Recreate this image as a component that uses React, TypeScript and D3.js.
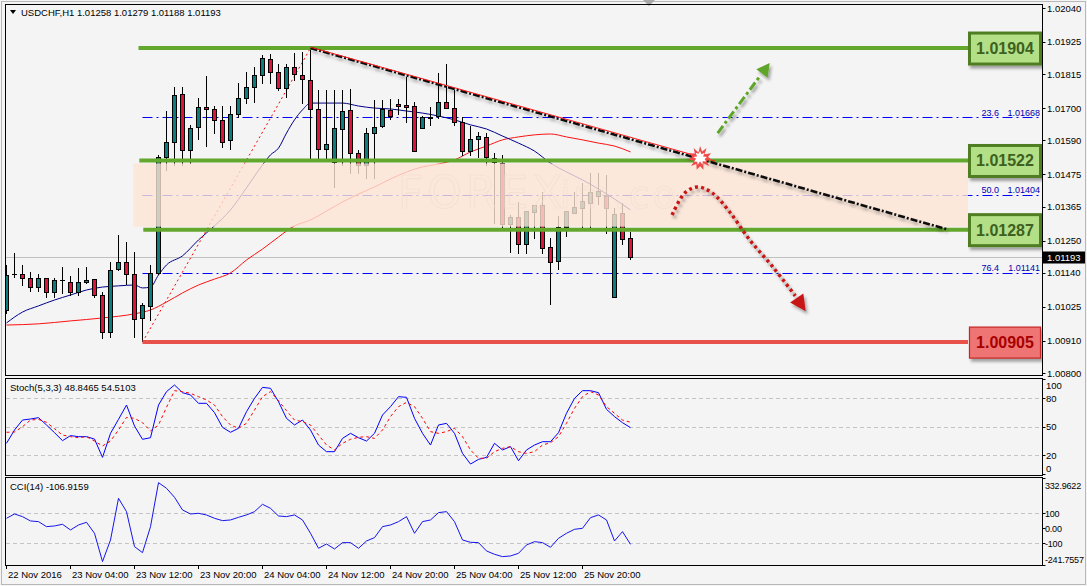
import React from "react";
import * as d3 from "d3";

// ---------- DATA ----------
const symbolTitle = "USDCHF,H1  1.01258 1.01279 1.01188 1.01193";

const opens = [1.01014,1.01136,1.01136,1.01123,1.01092,1.01123,1.01075,1.01116,1.01109,1.01075,1.01109,1.01119,1.01065,1.00939,1.01153,1.01177,1.01136,1.00987,1.01028,1.01140,1.01534,1.01585,1.01748,1.01557,1.01636,1.01704,1.01697,1.01659,1.01591,1.01680,1.01734,1.01771,1.01812,1.01867,1.01822,1.01768,1.01839,1.01812,1.01795,1.01697,1.01561,1.01517,1.01629,1.01693,1.01547,1.01506,1.01615,1.01639,1.01693,1.01714,1.01710,1.01707,1.01632,1.01666,1.01673,1.01721,1.01700,1.01653,1.01554,1.01595,1.01602,1.01530,1.01513,1.01306,1.01330,1.01238,1.01347,1.01371,1.01228,1.01180,1.01296,1.01343,1.01360,1.01377,1.01401,1.01401,1.01058,1.01343,1.01258];
const highs = [1.01167,1.01208,1.01167,1.01143,1.01136,1.01123,1.01123,1.01160,1.01129,1.01157,1.01160,1.01119,1.01075,1.01177,1.01269,1.01245,1.01211,1.01038,1.01167,1.01540,1.01690,1.01771,1.01771,1.01642,1.01734,1.01809,1.01707,1.01707,1.01707,1.01785,1.01822,1.01839,1.01880,1.01884,1.01850,1.01850,1.01887,1.01890,1.01904,1.01761,1.01761,1.01761,1.01761,1.01765,1.01557,1.01632,1.01727,1.01727,1.01731,1.01731,1.01805,1.01721,1.01673,1.01704,1.01819,1.01850,1.01761,1.01670,1.01639,1.01619,1.01615,1.01547,1.01540,1.01337,1.01381,1.01350,1.01371,1.01415,1.01258,1.01333,1.01350,1.01415,1.01445,1.01479,1.01479,1.01473,1.01360,1.01377,1.01279];
const lows = [1.01004,1.01126,1.01099,1.01078,1.01078,1.01058,1.01058,1.01072,1.01065,1.01065,1.01106,1.01058,1.00919,1.00922,1.01150,1.01102,1.00922,1.00909,1.00980,1.01136,1.01490,1.01506,1.01506,1.01513,1.01595,1.01571,1.01615,1.01568,1.01561,1.01670,1.01717,1.01721,1.01785,1.01785,1.01761,1.01737,1.01795,1.01717,1.01530,1.01530,1.01530,1.01432,1.01506,1.01479,1.01479,1.01462,1.01462,1.01636,1.01663,1.01680,1.01653,1.01554,1.01632,1.01642,1.01666,1.01700,1.01642,1.01540,1.01540,1.01534,1.01506,1.01309,1.01292,1.01211,1.01208,1.01208,1.01258,1.01208,1.01034,1.01153,1.01265,1.01343,1.01286,1.01296,1.01374,1.01275,1.01058,1.01238,1.01188];
const closes = [1.01133,1.01136,1.01123,1.01092,1.01123,1.01075,1.01116,1.01116,1.01075,1.01109,1.01116,1.01065,1.00939,1.01150,1.01177,1.01136,1.00983,1.01031,1.01140,1.01534,1.01585,1.01744,1.01557,1.01632,1.01704,1.01697,1.01659,1.01585,1.01680,1.01734,1.01771,1.01812,1.01870,1.01822,1.01768,1.01839,1.01816,1.01799,1.01697,1.01561,1.01578,1.01632,1.01690,1.01547,1.01506,1.01615,1.01636,1.01697,1.01673,1.01707,1.01705,1.01554,1.01670,1.01670,1.01721,1.01700,1.01653,1.01554,1.01595,1.01605,1.01534,1.01517,1.01306,1.01330,1.01238,1.01350,1.01371,1.01225,1.01177,1.01296,1.01350,1.01364,1.01384,1.01415,1.01418,1.01360,1.01340,1.01255,1.01193];

// moving averages, sampled at bar indices
const maBlueBars = [0,2,4,6,8,10,12,14,16,17,18,19,20,22,24,26,28,30,32,33,34,35,36,37,38,40,42,44,46,48,50,52,54,56,58,60,62,64,66,68,70,72,74,76,78];
const maBlueVals = [1.00970,1.01007,1.01028,1.01048,1.01065,1.01082,1.01092,1.01096,1.01099,1.01089,1.01092,1.01133,1.01167,1.01198,1.01252,1.01300,1.01354,1.01429,1.01507,1.01541,1.01564,1.01615,1.01660,1.01694,1.01717,1.01717,1.01717,1.01707,1.01700,1.01697,1.01690,1.01683,1.01673,1.01660,1.01643,1.01629,1.01605,1.01581,1.01554,1.01513,1.01483,1.01456,1.01425,1.01391,1.01354];
const maRedBars = [0,4,8,12,16,18,20,22,24,26,28,30,32,34,36,38,40,42,44,46,48,50,52,54,56,58,60,62,64,66,68,70,72,74,76,78];
const maRedVals = [1.00963,1.00967,1.00977,1.00987,1.01001,1.01014,1.01041,1.01072,1.01099,1.01119,1.01140,1.01184,1.01221,1.01262,1.01300,1.01320,1.01350,1.01381,1.01408,1.01432,1.01459,1.01483,1.01500,1.01510,1.01524,1.01551,1.01571,1.01592,1.01602,1.01609,1.01612,1.01602,1.01592,1.01581,1.01571,1.01551];

const priceTicks = [1.0204,1.01925,1.01815,1.017,1.0159,1.01475,1.01365,1.0125,1.0114,1.01025,1.0091,1.008];
const timeLabelBars = [0,8,16,24,32,40,48,56,64,72];
const timeLabels = ["22 Nov 2016","23 Nov 04:00","23 Nov 12:00","23 Nov 20:00","24 Nov 04:00","24 Nov 12:00","24 Nov 20:00","25 Nov 04:00","25 Nov 12:00","25 Nov 20:00"];

const stochMain = [32.3,46.3,56.8,57.9,59.3,51.6,43.5,35.1,40.4,39.3,39.3,36.8,17.5,42.8,57.5,72.6,50.5,36.5,38.2,72.6,86.7,93.7,85.6,83.2,74.4,74.4,64.6,49.1,43.9,48.1,65.6,79.6,91.2,90.2,76.1,58.6,51.6,56.8,46.3,30.5,23.5,23.5,37.5,42.8,38.2,34.7,42.8,62.1,70.9,81.4,80.7,58.6,42.8,30.5,51.6,53.3,42.8,21.7,10.5,15.4,17.5,32.3,25.3,28.8,14.0,25.3,30.5,34.0,34.0,43.5,63.9,79.6,87.7,87.7,85.6,68.1,60.4,54.0,48.8];
const stochSignal = [43.9,44.2,49.8,56.8,57.5,54.4,47.7,41.0,39.3,38.2,39.3,34.7,29.5,34.7,46.3,59.6,58.6,54.0,45.3,51.6,70.2,87.7,86.7,84.9,81.4,77.9,72.6,60.4,51.6,48.1,53.4,67.4,81.4,86.7,77.2,66.7,56.8,55.1,51.6,41.0,30.5,25.3,32.3,36.5,38.6,39.3,37.5,46.3,60.4,70.9,75.4,70.9,58.6,44.6,42.8,44.6,48.1,39.3,25.3,16.5,16.5,23.5,27.0,28.8,23.5,21.7,23.5,30.5,33.0,39.3,53.4,69.1,81.4,86.7,83.2,70.9,63.9,56.8,54.5];
const stochLevels = [80,50,20];
const stochAxis = [100,80,50,20,0];
const stochTitle = "Stoch(5,3,3) 48.8465 54.5103";

const cciVals = [66.7,95.6,77.8,48.9,44.4,11.1,15.6,26.7,-11.1,22.2,40.0,-33.3,-222,-77.8,200.0,111.1,-122.2,-162.2,11.1,304.4,266.7,206.7,122.2,95.6,100.0,88.9,66.7,51.1,55.6,73.3,88.9,111.1,160.0,133.3,82.2,77.8,88.9,55.6,-33.3,-133.3,-104.4,-137.8,-95.6,-95.6,-133.3,-84.4,-62.2,11.1,22.2,44.4,77.8,-33.3,44.4,55.6,104.4,111.1,44.4,-77.8,-93.3,-95.6,-151.1,-173.3,-188.9,-184.4,-166.7,-111.1,-88.9,-95.6,-126.7,-66.7,-33.3,-6.7,0,71.1,88.9,55.6,-84.4,-22.2,-106.9];
const cciLevels = [100,-100];
const cciAxisVals = [332.9622,100,0,-100,-241.7557];
const cciAxisText = ["332.9622","100","0.00","-100","-241.7557"];
const cciTitle = "CCI(14) -106.9159";

// support / resistance levels
const srPrices = [1.01904,1.01522,1.01287,1.00905];
const srStartBars = [16.5,16.6,17.1,17];
const srIsSupport = [false,false,false,true];

// fibonacci retracement
const fibRatios = ["23.6","50.0","76.4"];
const fibPrices = [1.01668,1.01404,1.01141];
const fibStartBar = 17;
const fibSwing = { lowBar: 17, low: 1.00905, highBar: 38, high: 1.01904 };

// trend line and projections (bar index, price)
const trendLine = [[38,1.01904],[117.7,1.01287]];
const upArrow = [[88.9,1.01615],[95.4,1.01853]];
const downPath = [[83.2,1.01337],[84.8,1.01412],[86.4,1.01432],[88.2,1.01412],[90.4,1.01347],[92.9,1.01252],[95.8,1.01160],[98.6,1.01062]];
const downTip = [99.9,1.01010];
const breakPoint = [86.7,1.01530];
const zoneTop = 1.01512, zoneBottom = 1.01297, zoneStartBar = 15.9;

// ---------- LAYOUT ----------
const W = 1087, H = 586;
const L = 5.5, R = 1042.5;
const mainTop = 4.5, mainBot = 375.5;
const stTop = 378.5, stBot = 475.5;
const ccTop = 477.5, ccBot = 565.5;
const boxX = 968, boxW = 74;

const x = d3.scaleLinear().domain([0, 1]).range([6.5, 14.5]);
const yP = d3.scaleLinear().domain([1.008, 1.0204]).range([373, 8]);
const yS = d3.scaleLinear().domain([0, 100]).range([474, 379]);
const yC = d3.scaleLinear().domain([-100, 100]).range([543.3, 513.3]);

const TEAL = "#0e7c7a";
const CRIM = "#dc143c";
const GREEN = "#63a72d";
const FIB = "#0000ff";
const FONT = "'Liberation Sans', Arial, sans-serif";

function arrowHead(tip: number[], from: number[], len: number, half: number) {
  const a = Math.atan2(tip[1] - from[1], tip[0] - from[0]);
  const bx = tip[0] - len * Math.cos(a), by = tip[1] - len * Math.sin(a);
  const px = -Math.sin(a) * half, py = Math.cos(a) * half;
  return `M${tip[0]},${tip[1]}L${bx + px},${by + py}L${bx - px},${by - py}Z`;
}

function starPath(cx: number, cy: number, ro: number, ri: number, n: number) {
  const pts: string[] = [];
  for (let i = 0; i < n * 2; i++) {
    const r = i % 2 === 0 ? ro : ri * (0.85 + 0.3 * ((i * 7) % 3) / 2);
    const a = (Math.PI * i) / n - Math.PI / 2;
    pts.push(`${cx + r * Math.cos(a)},${cy + r * Math.sin(a)}`);
  }
  return "M" + pts.join("L") + "Z";
}

const clampY = (v: number, lo: number, hi: number) => Math.min(Math.max(v, lo), hi);

export default function App() {
  const maPath = (bars: number[], vals: number[]) =>
    d3.line<number>().x((b) => x(b)).y((_, i) => yP(vals[i])).curve(d3.curveMonotoneX)(bars) || "";
  const stochLine = (vals: number[]) =>
    d3.line<number>().x((_, i) => x(i)).y((v) => yS(v))(vals) || "";
  const cciLine = d3.line<number>().x((_, i) => x(i)).y((v) => yC(v))(cciVals) || "";

  const tl = trendLine.map((p) => [x(p[0]), yP(p[1])]);
  const ua = upArrow.map((p) => [x(p[0]), yP(p[1])]);
  const dp = downPath.map((p) => [x(p[0]), yP(p[1])]);
  const dTip = [x(downTip[0]), yP(downTip[1])];
  const bp = [x(breakPoint[0]), yP(breakPoint[1])];
  const downD = d3.line().curve(d3.curveCatmullRom)(dp as [number, number][]) || "";
  const uaEnd = [ua[0][0] + (ua[1][0] - ua[0][0]) * 0.82, ua[0][1] + (ua[1][1] - ua[0][1]) * 0.82];

  const lastClose = closes[closes.length - 1];
  const bidY = Math.round(yP(lastClose)) + 0.5;

  return (
    <div style={{ position: "absolute", left: 0, top: 0 }}>
      <svg width={W} height={H} style={{ display: "block", fontFamily: FONT }}>
        <defs>
          <clipPath id="mainClip"><rect x={6} y={5} width={1036} height={370} /></clipPath>
          <clipPath id="stClip"><rect x={6} y={379} width={1036} height={96} /></clipPath>
          <clipPath id="ccClip"><rect x={6} y={478} width={1036} height={87} /></clipPath>
          <filter id="shadow" x="-20%" y="-20%" width="150%" height="160%">
            <feDropShadow dx="2" dy="3" stdDeviation="1.6" floodColor="#000" floodOpacity="0.35" />
          </filter>
          <filter id="soft" x="-10%" y="-10%" width="130%" height="140%">
            <feDropShadow dx="1.5" dy="3" stdDeviation="1.8" floodColor="#000" floodOpacity="0.3" />
          </filter>
        </defs>
        <rect x={0} y={0} width={W} height={H} fill="#f4f4f4" />
        <rect x={1.5} y={1.5} width={W - 3} height={H - 3} fill="none" stroke="#b8b8b8" />
        <path d="M643,0L655,0L649,6Z" fill="#a8a8a8" />

        {/* ---------- MAIN PANEL ---------- */}
        <g clipPath="url(#mainClip)">
          <line x1={6} x2={R} y1={bidY} y2={bidY} stroke="#c0c0c0" />
          {fibPrices.map((p, i) => {
            const yy = Math.round(yP(p)) + 0.5;
            return (
              <path key={"f" + i} d={`M${x(fibStartBar)},${yy}H${R}`} fill="none" stroke={FIB} strokeWidth={1.1} strokeDasharray="10,4,2,4" />
            );
          })}
          <path d={maPath(maRedBars, maRedVals)} fill="none" stroke="#ff1010" strokeWidth={1} />
          <path d={maPath(maBlueBars, maBlueVals)} fill="none" stroke="#00008b" strokeWidth={1} />
          <line x1={x(fibSwing.lowBar)} y1={yP(fibSwing.low)} x2={x(fibSwing.highBar)} y2={yP(fibSwing.high)} stroke="#ff0000" strokeWidth={1} strokeDasharray="2,3" />
          {opens.map((o, i) => {
            const c = closes[i];
            const cx = x(i);
            const yo = yP(o), yc = yP(c);
            const top = Math.round(Math.min(yo, yc)) + 0.5;
            const bot = Math.round(Math.max(yo, yc)) + 0.5;
            const doji = bot - top < 1;
            return (
              <g key={"c" + i} shapeRendering="crispEdges">
                <line x1={cx} x2={cx} y1={Math.round(yP(highs[i]))} y2={Math.round(yP(lows[i])) + 1} stroke="#000" />
                {doji ? (
                  <line x1={cx - 2.5} x2={cx + 2.5} y1={top} y2={top} stroke="#000" />
                ) : (
                  <rect x={cx - 2} y={top} width={4} height={bot - top} fill={c > o ? TEAL : CRIM} stroke="#000" />
                )}
              </g>
            );
          })}
          {/* watermark */}
          <text x={398} y={208} fontSize={44} fill="none" stroke="#bdb3ae" strokeWidth={1.2} opacity={0.5} letterSpacing={4} fontFamily="'DejaVu Sans', sans-serif">FOREX</text>
          <text x={560} y={208} fontSize={38} fill="none" stroke="#bdb3ae" strokeWidth={1.2} opacity={0.4} letterSpacing={3} fontFamily="'DejaVu Sans', sans-serif">im.co</text>
          {/* zone band */}
          <rect x={x(zoneStartBar)} y={yP(zoneTop)} width={boxX - x(zoneStartBar)} height={yP(zoneBottom) - yP(zoneTop)} fill="#fde5d4" opacity={0.8} />
          {fibPrices.map((p, i) => (
            <g key={"fl" + i} fontSize={9} fill="#0000b0">
              <text x={999} y={yP(p) - 2} textAnchor="end">{fibRatios[i]}</text>
              <text x={1040} y={yP(p) - 2} textAnchor="end">{p.toFixed(5)}</text>
            </g>
          ))}
          {srPrices.map((p, i) => (
            <line key={"sr" + i} x1={x(srStartBars[i])} x2={boxX} y1={yP(p)} y2={yP(p)} stroke={srIsSupport[i] ? "#e8524a" : GREEN} strokeWidth={4} />
          ))}
          <g filter="url(#soft)">
            <line x1={tl[0][0]} y1={tl[0][1]} x2={tl[1][0]} y2={tl[1][1]} stroke="#111" strokeWidth={2.6} strokeDasharray="7,2,2,2" />
          </g>
          <line x1={tl[0][0]} y1={tl[0][1] - 0.8} x2={x(breakPoint[0]) + 15} y2={yP(breakPoint[1]) + 3} stroke="#ff1a1a" strokeWidth={1} />
          <g filter="url(#shadow)">
            <line x1={ua[0][0]} y1={ua[0][1]} x2={uaEnd[0]} y2={uaEnd[1]} stroke="#5fa52a" strokeWidth={3} strokeDasharray="9,3,3,3" />
            <path d={arrowHead(ua[1], ua[0], 13, 7)} fill="#5fa52a" />
          </g>
          <g filter="url(#shadow)">
            <path d={downD} fill="none" stroke="#c81818" strokeWidth={3.5} strokeDasharray="3,3.2" />
            <path d={arrowHead(dTip, dp[dp.length - 1], 16, 8)} fill="#c81818" />
          </g>
          <path d={starPath(bp[0], bp[1], 12, 7, 11)} fill="#f04a4a" />
          <path d={starPath(bp[0], bp[1], 7, 4, 9)} fill="#ffffff" />
          {srPrices.map((p, i) => {
            const yy = yP(p);
            const sup = srIsSupport[i];
            return (
              <g key={"bx" + i}>
                <rect x={boxX + 1.5} y={yy - 15} width={boxW - 3} height={31} fill={sup ? "#ef7575" : "#b3df87"} stroke={sup ? "#c52525" : "#4f7d22"} strokeWidth={sup ? 1.2 : 3} filter="url(#shadow)" />
                <text x={boxX + boxW / 2} y={yy + 6} textAnchor="middle" fontSize={16} fontWeight="bold" fill={sup ? "#a80000" : "#3e6020"}>{p.toFixed(5)}</text>
              </g>
            );
          })}
        </g>
        <path d="M10,10L16,10L13,14Z" fill="#000" />
        <text x={21} y={16} fontSize={9.5} fill="#000">{symbolTitle}</text>

        {/* ---------- STOCH PANEL ---------- */}
        <g clipPath="url(#stClip)">
          {stochLevels.map((v) => (
            <line key={"sl" + v} x1={6} x2={R} y1={Math.round(yS(v)) + 0.5} y2={Math.round(yS(v)) + 0.5} stroke="#c4c4c4" strokeDasharray="4,3" />
          ))}
          <path d={stochLine(stochMain)} fill="none" stroke="#0000ff" strokeWidth={1} />
          <path d={stochLine(stochSignal)} fill="none" stroke="#ff0000" strokeWidth={1} strokeDasharray="3,3" />
        </g>
        <text x={10} y={391} fontSize={9.5} fill="#000">{stochTitle}</text>

        {/* ---------- CCI PANEL ---------- */}
        <g clipPath="url(#ccClip)">
          {cciLevels.map((v) => (
            <line key={"cl" + v} x1={6} x2={R} y1={Math.round(yC(v)) + 0.5} y2={Math.round(yC(v)) + 0.5} stroke="#c4c4c4" strokeDasharray="4,3" />
          ))}
          <path d={cciLine} fill="none" stroke="#1414f0" strokeWidth={1} />
        </g>
        <text x={10} y={490} fontSize={9.5} fill="#000">{cciTitle}</text>

        {/* ---------- FRAMES ---------- */}
        <g fill="none" stroke="#000" shapeRendering="crispEdges">
          <rect x={L} y={mainTop} width={R - L} height={mainBot - mainTop} />
          <rect x={L} y={stTop} width={R - L} height={stBot - stTop} />
          <rect x={L} y={ccTop} width={R - L} height={ccBot - ccTop} />
        </g>

        <g fontSize={9.5} fill="#000">
          {priceTicks.map((p) => (
            <g key={"pt" + p}>
              <line x1={R} x2={R + 3} y1={Math.round(yP(p)) + 0.5} y2={Math.round(yP(p)) + 0.5} stroke="#000" />
              <text x={1047} y={yP(p) + 3.5}>{p.toFixed(5)}</text>
            </g>
          ))}
          <rect x={1043} y={bidY - 6} width={42} height={12} fill="#000" />
          <text x={1047} y={bidY + 3.5} fill="#fff">{lastClose.toFixed(5)}</text>
        </g>
        <g fontSize={9.5} fill="#000">
          {stochAxis.map((v) => (
            <g key={"sa" + v}>
              <line x1={R} x2={R + 3} y1={Math.round(yS(v)) + 0.5} y2={Math.round(yS(v)) + 0.5} stroke="#000" />
              <text x={1046} y={clampY(yS(v), 385, 468) + 3.5}>{v}</text>
            </g>
          ))}
        </g>
        <g fontSize={9} fill="#000">
          {cciAxisVals.map((v, i) => (
            <g key={"ca" + i}>
              <line x1={R} x2={R + 3} y1={Math.round(clampY(yC(v), 478, 565)) + 0.5} y2={Math.round(clampY(yC(v), 478, 565)) + 0.5} stroke="#000" />
              <text x={1045} y={clampY(yC(v), 485, 559) + 3.5} letterSpacing={-0.2}>{cciAxisText[i]}</text>
            </g>
          ))}
        </g>
        <g fontSize={9.5} fill="#000">
          {timeLabelBars.map((b, i) => (
            <g key={"ta" + b}>
              <line x1={Math.round(x(b)) - 0.5} x2={Math.round(x(b)) - 0.5} y1={565} y2={569} stroke="#000" />
              <text x={Math.round(x(b)) + 1} y={578}>{timeLabels[i]}</text>
            </g>
          ))}
        </g>
      </svg>
    </div>
  );
}
